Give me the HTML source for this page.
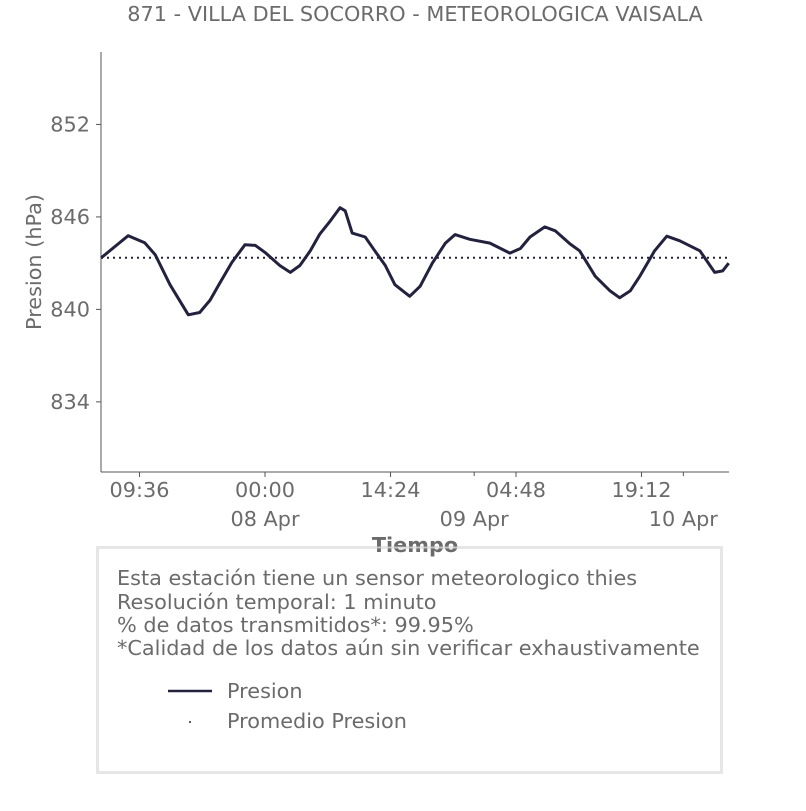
<!DOCTYPE html>
<html><head><meta charset="utf-8"><style>
body{margin:0;background:#fff;font-family:"Liberation Sans","DejaVu Sans",sans-serif;}
svg text{fill:#6b6b6b;font-family:"DejaVu Sans","Liberation Sans",sans-serif;}
</style></head><body>
<svg id="chart" width="806" height="806">
<text x="415" y="21" font-size="20.8" text-anchor="middle">871 - VILLA DEL SOCORRO - METEOROLOGICA VAISALA</text>
<g id="axes"></g>
<text x="41" y="262" font-size="20.8" text-anchor="middle" transform="rotate(-90 41 262)">Presion (hPa)</text>
<rect x="97.5" y="547.5" width="624" height="225" fill="#fff" stroke="#e6e6e6" stroke-width="3"/>
<text x="415" y="552" font-size="20.8" font-weight="bold" text-anchor="middle">Tiempo</text>
<line x1="370" y1="547.5" x2="460" y2="547.5" stroke="#e6e6e6" stroke-width="2" opacity="0.7"/>
<text x="117" y="585" font-size="20.8">Esta estación tiene un sensor meteorologico thies</text>
<text x="117" y="609" font-size="20.8">Resolución temporal: 1 minuto</text>
<text x="117" y="632" font-size="20.8">% de datos transmitidos*: 99.95%</text>
<text x="117" y="655" font-size="20.8">*Calidad de los datos aún sin verificar exhaustivamente</text>
<line x1="168" y1="691" x2="212" y2="691" stroke="#22223f" stroke-width="2.5"/>
<text x="227" y="698" font-size="20.8">Presion</text>
<circle cx="190" cy="722" r="1" fill="#22223f"/>
<text x="227" y="728" font-size="20.8">Promedio Presion</text>
</svg>
<script>
// hours relative to 08 Apr 00:00
const times=[-18.8,-15.7,-13.8,-12.6,-10.9,-8.8,-7.5,-6.3,-5.2,-3.8,-2.3,-1.1,0,1.7,2.9,4.0,5.2,6.3,7.5,8.6,9.2,10.0,11.5,12.6,13.8,14.9,16.6,17.8,19.2,20.7,21.8,23.5,25.8,28.1,29.3,30.4,32.1,33.3,35.0,36.1,37.9,39.6,40.7,41.9,43.0,44.7,46.1,47.6,49.9,51.6,52.5,53.2];
const pressure=[843.35,844.78,844.33,843.55,841.6,839.65,839.8,840.6,841.7,843.05,844.2,844.15,843.7,842.85,842.4,842.85,843.8,844.9,845.75,846.6,846.4,844.95,844.7,843.8,842.85,841.6,840.85,841.5,843.0,844.3,844.85,844.55,844.3,843.65,843.95,844.7,845.35,845.1,844.25,843.8,842.15,841.2,840.75,841.2,842.15,843.8,844.75,844.45,843.8,842.4,842.5,843.0];
const meanPressure=[843.35];
const yTicks=[834,840,846,852];
const xTickHours=[-14.4,0,14.4,28.8,43.2];
const xTickLabels=["09:36","00:00","14:24","04:48","19:12"];
const dayHours=[0,24,48];
const dayLabels=["08 Apr","09 Apr","10 Apr"];
const X0=101,X1=729,Y0=52,Y1=472,tMin=-18.82,tMax=53.24,vMin=829.45,vMax=856.7;
const xs=t=>X0+(t-tMin)/(tMax-tMin)*(X1-X0);
const ys=v=>Y1-(v-vMin)/(vMax-vMin)*(Y1-Y0);
const NS="http://www.w3.org/2000/svg",g=document.getElementById('axes');
function mk(tag,attrs,txt){const e=document.createElementNS(NS,tag);for(const k in attrs)e.setAttribute(k,attrs[k]);if(txt!==undefined)e.textContent=txt;g.appendChild(e);return e;}
let e=mk('line',{x1:X0,y1:Y0,x2:X0,y2:Y1,stroke:'#555','stroke-width':1});


e=mk('line',{x1:X0,y1:Y1,x2:X1,y2:Y1,stroke:'#555','stroke-width':1});


yTicks.forEach(v=>{const y=ys(v);
 e=mk('line',{x1:X0-5,y1:y,x2:X0,y2:y,stroke:'#555'});
 
 
 e=mk('text',{x:X0-11,y:y+7,'font-size':20.8,'text-anchor':'end'},String(v));
 
 });
xTickHours.forEach((h,i)=>{const x=xs(h);
 e=mk('line',{x1:x,y1:Y1,x2:x,y2:Y1+5,stroke:'#555'});
 
 
 e=mk('text',{x:x,y:Y1+25,'font-size':20.8,'text-anchor':'middle'},xTickLabels[i]);
 
 });
dayHours.forEach((h,i)=>{const x=xs(h);
 e=mk('line',{x1:x,y1:Y1,x2:x,y2:Y1+4,stroke:'#555'});
 
 
 e=mk('text',{x:x,y:Y1+54,'font-size':20.8,'text-anchor':'middle'},dayLabels[i]);
 
 });
e=mk('line',{x1:X0,y1:ys(meanPressure[0]),x2:X1,y2:ys(meanPressure[0]),stroke:'#22223f','stroke-width':2,'stroke-dasharray':'2,4'});


e=mk('polyline',{points:times.map((t,i)=>xs(t).toFixed(1)+','+ys(pressure[i]).toFixed(1)).join(' '),fill:'none',stroke:'#22223f','stroke-width':3,'stroke-linejoin':'round'});


</script>
</body></html>
